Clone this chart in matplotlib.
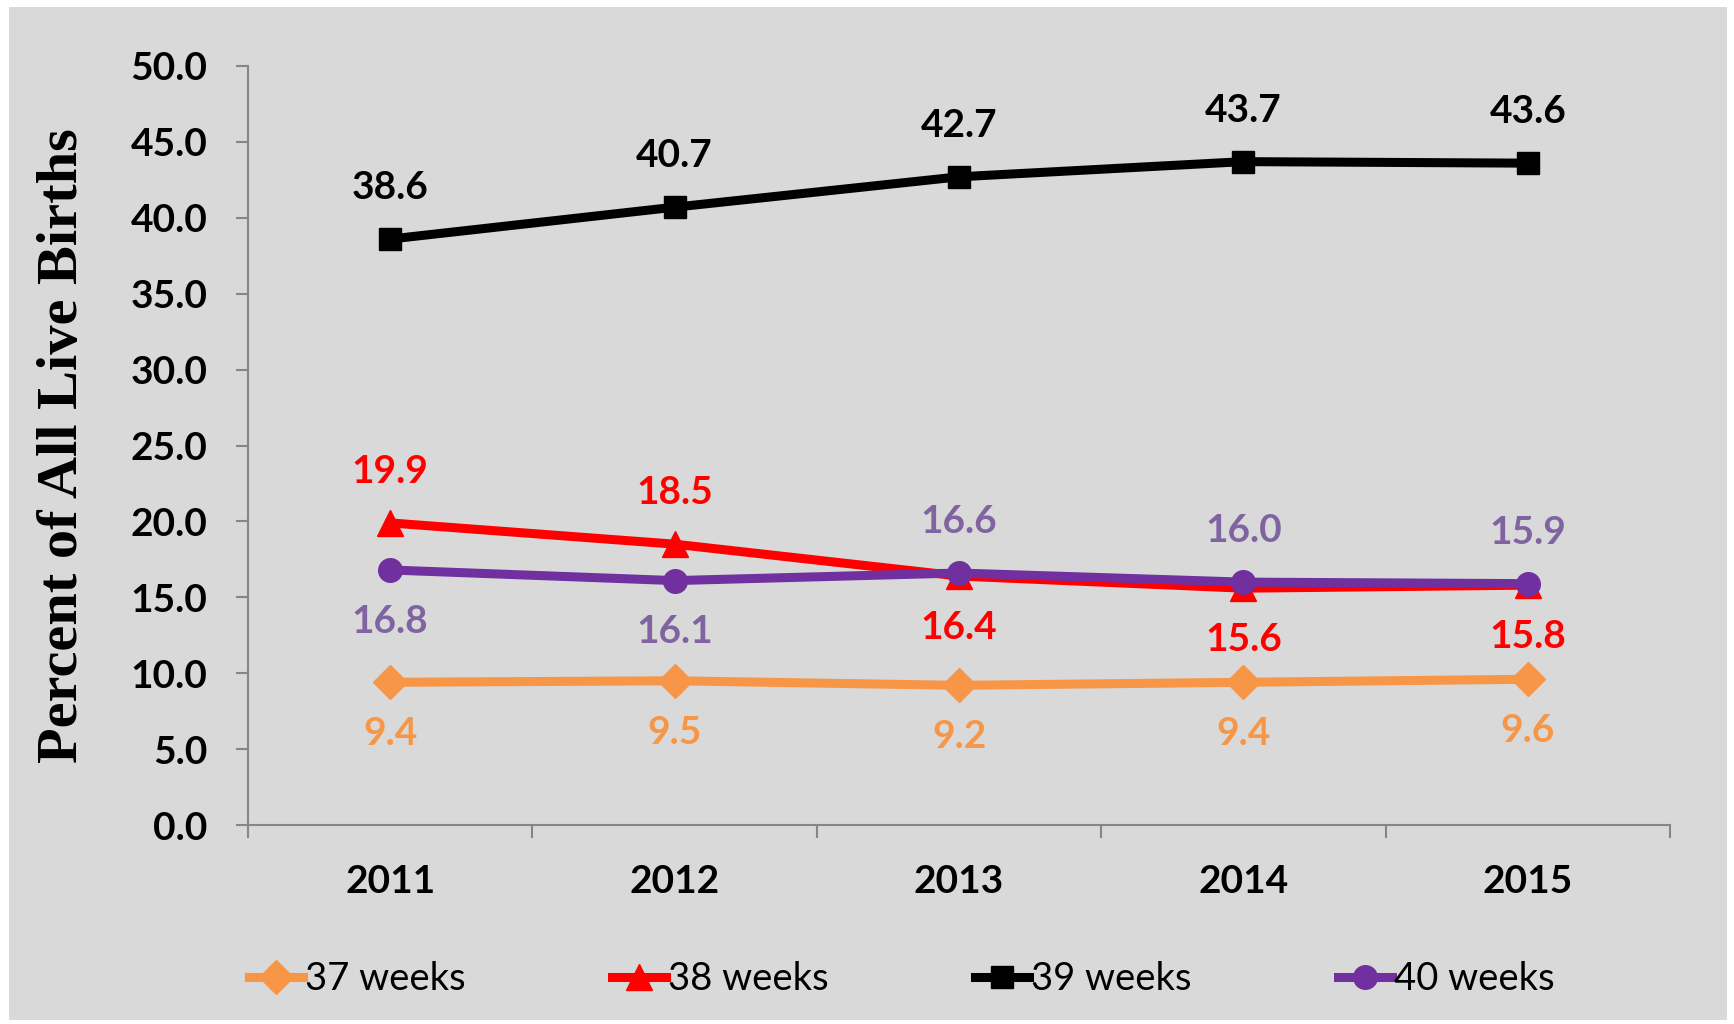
import numpy as np
import matplotlib.pyplot as plt
from matplotlib.patches import Rectangle

# Data
years = ["2011", "2012", "2013", "2014", "2015"]
weeks37 = [9.4, 9.5, 9.2, 9.4, 9.6]
weeks38 = [19.9, 18.5, 16.4, 15.6, 15.8]
weeks39 = [38.6, 40.7, 42.7, 43.7, 43.6]
weeks40 = [16.8, 16.1, 16.6, 16.0, 15.9]
seriesNames = ["37 weeks", "38 weeks", "39 weeks", "40 weeks"]

# label placement (+1 above, -1 below)
pos37 = [-1, -1, -1, -1, -1]
pos38 = [1, 1, -1, -1, -1]
pos39 = [1, 1, 1, 1, 1]
pos40 = [-1, -1, 1, 1, 1]

bg = "#d9d9d9"
fig = plt.figure(figsize=(17.34, 10.24), dpi=100)
fig.patch.set_facecolor("white")
fig.patches.append(Rectangle((9 / 1734, 1 - 1020 / 1024), 1718 / 1734, 1013 / 1024,
                             transform=fig.transFigure, facecolor=bg, edgecolor="none", zorder=0))

ax = fig.add_axes([248 / 1734, 1 - 825 / 1024, 1422 / 1734, 759 / 1024])
ax.set_facecolor("none")
ax.set_zorder(2)

x = np.arange(1, len(years) + 1)
styles = [
    (weeks37, "#f79646", "#f79646", "D", 17, pos37),
    (weeks38, "#ff0000", "#ff0000", "^", 19, pos38),
    (weeks39, "#000000", "#000000", "s", 16, pos39),
    (weeks40, "#7030a0", "#8064a2", "o", 17, pos40),
]
for (vals, col, lblCol, mk, ms, pos), name in zip(styles, seriesNames):
    ax.plot(x, vals, color=col, lw=6.5, marker=mk, markersize=ms, label=name, zorder=3)
    for xi, v, p in zip(x, vals, pos):
        ax.annotate(f"{v:.1f}", (xi, v), xytext=(0, 37 * p), textcoords="offset points",
                    ha="center", va="center", fontsize=28, fontweight="bold",
                    color=lblCol, family="Lato")

ax.set_xlim(0.5, len(years) + 0.5)
ax.set_ylim(0, 50)
ax.set_yticks(np.arange(0, 50.1, 5))
ax.set_yticklabels([f"{v:.1f}" for v in np.arange(0, 50.1, 5)])
ax.set_xticks(x)
ax.set_xticklabels(years)
ax.set_xticks(np.arange(0.5, len(years) + 1, 1), minor=True)

for s in ["top", "right"]:
    ax.spines[s].set_visible(False)
for s in ["left", "bottom"]:
    ax.spines[s].set_color("#868686")
    ax.spines[s].set_linewidth(1.5)

ax.tick_params(axis="x", which="major", length=0, pad=28)
ax.tick_params(axis="x", which="minor", length=9, width=1.5, color="#868686")
ax.tick_params(axis="y", length=9, width=1.5, color="#868686", pad=20)
for lbl in ax.get_xticklabels() + ax.get_yticklabels():
    lbl.set_fontsize(28)
    lbl.set_fontweight("bold")
    lbl.set_family("Lato")

ax.set_ylabel("Percent of All Live Births", fontsize=42, fontweight="bold",
              family="Liberation Serif")
ax.yaxis.set_label_coords(-0.112, 0.5)

fig.legend(loc="center", bbox_to_anchor=(0.52, 1 - 979 / 1024), ncol=4, frameon=False,
           prop={"family": "Lato", "size": 27.5}, handlelength=1.4, handletextpad=0.05,
           columnspacing=3.85, markerscale=1.0)

fig.savefig("out.png", dpi=100, facecolor="white")
